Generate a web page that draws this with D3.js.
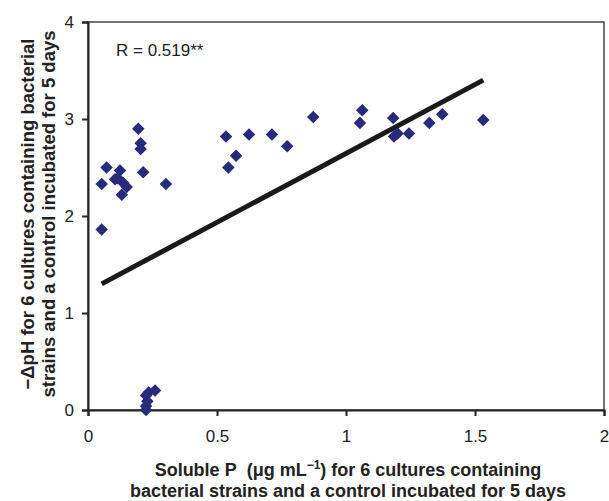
<!DOCTYPE html>
<html lang="en">
<head>
<meta charset="UTF-8">
<title>Soluble P vs pH</title>
<script src="https://d3js.org/d3.v7.min.js"></script>
<style>
  body { margin: 0; background: #fff; }
  svg { display: block; font-family: "Liberation Sans", Arial, sans-serif; }
</style>
</head>
<body>
<svg id="chart" width="609" height="501"></svg>
<script>
// data
const solubleP = [0.053, 0.072, 0.105, 0.116, 0.124, 0.137, 0.150, 0.131, 0.195, 0.204, 0.204, 0.214, 0.302, 0.053,
                  0.225, 0.225, 0.230, 0.225, 0.235, 0.260,
                  0.535, 0.544, 0.574, 0.624, 0.713, 0.772, 0.873,
                  1.054, 1.063, 1.183, 1.186, 1.200, 1.244, 1.323, 1.373, 1.532];
const deltaPH = [2.33, 2.50, 2.38, 2.39, 2.47, 2.34, 2.30, 2.22, 2.90, 2.75, 2.69, 2.45, 2.33, 1.86,
                 0.00, 0.04, 0.09, 0.15, 0.18, 0.20,
                 2.82, 2.50, 2.62, 2.84, 2.84, 2.72, 3.02,
                 2.96, 3.09, 3.01, 2.82, 2.85, 2.85, 2.96, 3.05, 2.99];
const trend = { intercept: 1.225, slope: 1.42 };
const xTicks = [0, 0.5, 1, 1.5, 2];
const yTicks = [0, 1, 2, 3, 4];

const svg = d3.select("#chart");
const mLeft = 88, mRight = 604, mTop = 22, mBottom = 410;

const x = d3.scaleLinear().domain([0, 2]).range([mLeft, mRight]);
const y = d3.scaleLinear().domain([0, 4]).range([mBottom, mTop]);

// frame
svg.append("rect")
  .attr("x", mLeft).attr("y", mTop)
  .attr("width", mRight - mLeft).attr("height", mBottom - mTop)
  .attr("fill", "none").attr("stroke", "#444").attr("stroke-width", 1.5);

// axes
const xAxis = svg.append("g")
  .attr("transform", `translate(0,${mBottom})`)
  .call(d3.axisBottom(x).tickValues(xTicks).tickSize(6).tickPadding(14)
    .tickFormat(d => d));
const yAxis = svg.append("g")
  .attr("transform", `translate(${mLeft},0)`)
  .call(d3.axisLeft(y).tickValues(yTicks).tickSize(6).tickPadding(8)
    .tickFormat(d => d));

[xAxis, yAxis].forEach(g => {
  g.select(".domain").attr("stroke", "#222").attr("stroke-width", 2);
  g.selectAll(".tick line").attr("stroke", "#222").attr("stroke-width", 2);
  g.selectAll(".tick text").attr("fill", "#222").style("font-size", "17px");
});

// trend line
const x0 = d3.min(solubleP), x1 = d3.max(solubleP);
svg.append("line")
  .attr("x1", x(x0)).attr("y1", y(trend.intercept + trend.slope * x0))
  .attr("x2", x(x1)).attr("y2", y(trend.intercept + trend.slope * x1))
  .attr("stroke", "#1a1a1a").attr("stroke-width", 5);

// points
const diamond = d3.symbol().type(d3.symbolDiamond2).size(100);
svg.append("g")
  .selectAll("path")
  .data(d3.zip(solubleP, deltaPH))
  .join("path")
    .attr("transform", d => `translate(${x(d[0])},${y(d[1])})`)
    .attr("d", diamond)
    .attr("fill", "#282b7d");

// R label
svg.append("text")
  .attr("x", 116).attr("y", 56)
  .attr("fill", "#222").style("font-size", "17px")
  .text("R = 0.519**");

// x title
const xt = svg.append("text")
  .attr("text-anchor", "middle").attr("fill", "#222")
  .style("font-size", "18px").style("font-weight", "bold");
const l1 = xt.append("tspan").attr("x", 348).attr("y", 476);
l1.append("tspan").text("Soluble P\u00a0\u00a0(\u03bcg mL");
l1.append("tspan").attr("dy", -7).style("font-size", "12px").text("\u22121");
l1.append("tspan").attr("dy", 7).text(") for 6 cultures containing");
xt.append("tspan").attr("x", 348).attr("y", 497)
  .text("bacterial strains and a control incubated for 5 days");

// y title
const yt = svg.append("text")
  .attr("transform", "translate(0,214) rotate(-90)")
  .attr("text-anchor", "middle").attr("fill", "#222")
  .style("font-size", "18.5px").style("font-weight", "bold");
yt.append("tspan").attr("x", 0).attr("y", 34)
  .text("\u2212\u0394pH for 6 cultures containing bacterial");
yt.append("tspan").attr("x", 0).attr("y", 55)
  .text("strains and a control incubated for 5 days");
</script>
</body>
</html>
